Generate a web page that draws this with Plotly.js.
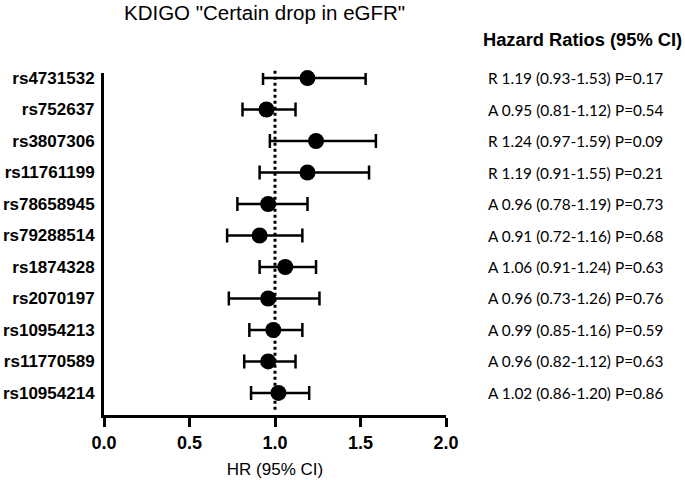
<!DOCTYPE html>
<html>
<head>
<meta charset="utf-8">
<script src="https://cdn.plot.ly/plotly-3.0.1.min.js"></script>
<style>html,body{margin:0;padding:0;background:#fff;}#chart{width:685px;height:480px;}</style>
</head>
<body>
<div id="chart"></div>
<script>
const snps = ["rs4731532","rs752637","rs3807306","rs11761199","rs78658945","rs79288514","rs1874328","rs2070197","rs10954213","rs11770589","rs10954214"];
const alleles = ["R","A","R","R","A","A","A","A","A","A","A"];
const hr = [1.19,0.95,1.24,1.19,0.96,0.91,1.06,0.96,0.99,0.96,1.02];
const lower = [0.93,0.81,0.97,0.91,0.78,0.72,0.91,0.73,0.85,0.82,0.86];
const upper = [1.53,1.12,1.59,1.55,1.19,1.16,1.24,1.26,1.16,1.12,1.20];
const pvals = ["0.17","0.54","0.09","0.21","0.73","0.68","0.63","0.76","0.59","0.63","0.86"];
const xTicks = [0, 0.5, 1.0, 1.5, 2.0];
const xTickText = ["0.0","0.5","1.0","1.5","2.0"];

const plus = hr.map((h,i)=>+(upper[i]-h).toFixed(3));
const minus = hr.map((h,i)=>+(h-lower[i]).toFixed(3));

const trace = {
  type: "scatter", mode: "markers",
  x: hr, y: snps,
  marker: {color: "#000", size: 16},
  error_x: {type: "data", symmetric: false, array: plus, arrayminus: minus, color: "#000", thickness: 2.5, width: 7},
  cliponaxis: false, hoverinfo: "skip"
};

const annotations = snps.map((s,i)=>({
  xref: "paper", yref: "y", x: (486-104)/342, y: s, xanchor: "left", yanchor: "middle",
  text: alleles[i] + " " + hr[i].toFixed(2) + " (" + lower[i].toFixed(2) + "-" + upper[i].toFixed(2) + ") P=" + pvals[i],
  showarrow: false, font: {family: "Lato, 'Open Sans', sans-serif", size: 15.4, color: "#000"}
}));
annotations.push({xref:"paper", yref:"paper", x:(264-104)/342, y:1+(73-13)/342, xanchor:"center", yanchor:"middle",
  text:'KDIGO "Certain drop in eGFR"', showarrow:false, font:{family:"Liberation Sans, Arial", size:20.5, color:"#000"}});
annotations.push({xref:"paper", yref:"paper", x:(582-104)/342, y:1+(73-40)/342, xanchor:"center", yanchor:"middle",
  text:'<b>Hazard Ratios (95% CI)</b>', showarrow:false, font:{family:"Liberation Sans, Arial", size:18.3, color:"#000"}});

const layout = {
  width: 685, height: 480,
  margin: {l: 104, r: 239, t: 73, b: 65},
  paper_bgcolor: "#fff", plot_bgcolor: "#fff",
  showlegend: false,
  xaxis: {
    range: [0, 2], tickvals: xTicks, ticktext: xTickText,
    showgrid: false, zeroline: false, showline: true, linecolor: "#000", linewidth: 3,
    ticks: "outside", ticklen: 9, tickwidth: 3, tickcolor: "#000",
    tickfont: {family: "Liberation Sans, Arial", size: 18, color: "#000", weight: "bold"},
    title: {text: "HR (95% CI)", font: {family: "Liberation Sans, Arial", size: 17, color: "#000"}, standoff: 12}
  },
  yaxis: {
    type: "category", range: [10.7, -0.16],
    showgrid: false, zeroline: false, showline: true, linecolor: "#000", linewidth: 3,
    ticks: "", ticklabelstandoff: 3,
    tickfont: {family: "Liberation Sans, Arial", size: 17, color: "#000", weight: "bold"}
  },
  shapes: [{type: "line", xref: "x", yref: "paper", x0: 1, x1: 1, y0: 0.015, y1: 1.01,
    line: {color: "#000", width: 3, dash: "dot"}, layer: "below"}],
  annotations: annotations
};

Plotly.newPlot("chart", [trace], layout, {displayModeBar: false, staticPlot: true});
</script>
</body>
</html>
